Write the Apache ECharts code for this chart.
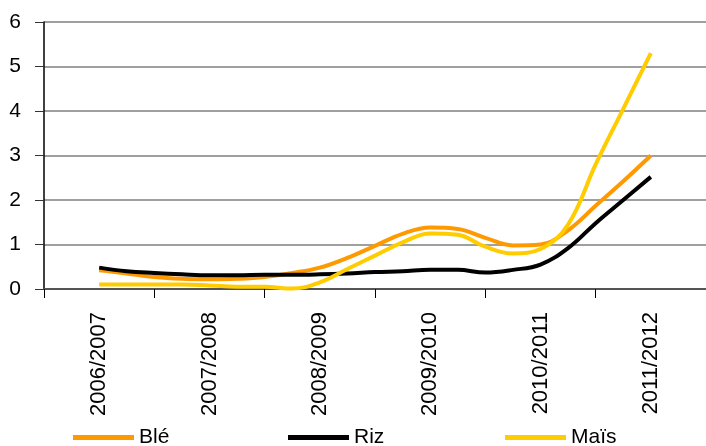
<!DOCTYPE html>
<html>
<head>
<meta charset="utf-8">
<script src="https://cdn.jsdelivr.net/npm/echarts@6/dist/echarts.min.js"></script>
<style>
html,body{margin:0;padding:0;background:#fff;}
#c{width:706px;height:446px;}
</style>
</head>
<body>
<div id="c"></div>
<script>
// Categories (campaign years)
const categories = ['2006/2007','2007/2008','2008/2009','2009/2010','2010/2011','2011/2012'];
// Quarterly positions between the first and last campaign (in category units)
const positions = [0,0.25,0.5,0.75,1,1.25,1.5,1.75,2,2.25,2.5,2.75,3,3.25,3.5,3.75,4,4.25,4.5,4.75,5];
// Series values
const ble  = [0.42,0.35,0.27,0.23,0.22,0.23,0.27,0.36,0.48,0.70,0.97,1.24,1.38,1.35,1.15,0.98,1.00,1.32,1.87,2.42,3.00];
const riz  = [0.48,0.40,0.36,0.33,0.31,0.31,0.32,0.32,0.33,0.35,0.38,0.40,0.43,0.43,0.37,0.43,0.55,0.92,1.48,2.00,2.52];
const mais = [0.10,0.10,0.10,0.10,0.08,0.05,0.05,0.01,0.15,0.45,0.75,1.05,1.25,1.22,0.95,0.80,0.90,1.45,2.80,4.05,5.30];
const yTicks = [0,1,2,3,4,5,6];

const pair = arr => arr.map((v,i) => [positions[i], v]);
const FONT = '"Liberation Sans", Arial, sans-serif';

const chart = echarts.init(document.getElementById('c'), null, {renderer:'canvas'});
const legendBase = {
  icon: 'rect', itemWidth: 61, itemHeight: 5, top: 427, padding: 0,
  textStyle: {fontFamily: FONT, fontSize: 21, color: '#000'}
};
chart.setOption({
  animation: false,
  backgroundColor: '#fff',
  grid: {left: 44, right: 0, top: 22, bottom: 157, containLabel: false},
  legend: [
    Object.assign({}, legendBase, {data: ['Blé'], left: 73}),
    Object.assign({}, legendBase, {data: ['Riz'], left: 288}),
    Object.assign({}, legendBase, {data: ['Maïs'], left: 505})
  ],
  xAxis: [
    {
      type: 'category', data: categories, boundaryGap: true,
      axisLine: {onZero: false, lineStyle: {color: '#555', width: 2}},
      axisTick: {show: true, length: 9, lineStyle: {color: '#000', width: 1}},
      axisLabel: {rotate: 90, margin: 23, fontFamily: FONT, fontSize: 22, color: '#000'},
      splitLine: {show: false}
    },
    {
      type: 'value', min: -0.5, max: 5.5, show: false
    }
  ],
  yAxis: {
    type: 'value', min: yTicks[0], max: yTicks[yTicks.length-1], interval: 1,
    axisLine: {show: true, onZero: false, lineStyle: {color: '#000', width: 1.5}},
    axisTick: {show: true, length: 9, lineStyle: {color: '#333', width: 1}},
    axisLabel: {margin: 23, fontFamily: FONT, fontSize: 21, color: '#000'},
    splitLine: {show: true, lineStyle: {color: '#7f7f7f', width: 1.5}}
  },
  series: [
    {name: 'Blé', type: 'line', xAxisIndex: 1, data: pair(ble), smooth: 0.4, showSymbol: false,
     lineStyle: {color: '#FF9900', width: 4}, itemStyle: {color: '#FF9900'}},
    {name: 'Riz', type: 'line', xAxisIndex: 1, data: pair(riz), smooth: 0.4, showSymbol: false,
     lineStyle: {color: '#000000', width: 4}, itemStyle: {color: '#000000'}},
    {name: 'Maïs', type: 'line', xAxisIndex: 1, data: pair(mais), smooth: 0.4, showSymbol: false,
     lineStyle: {color: '#FFCC00', width: 4}, itemStyle: {color: '#FFCC00'}}
  ]
});
</script>
</body>
</html>
